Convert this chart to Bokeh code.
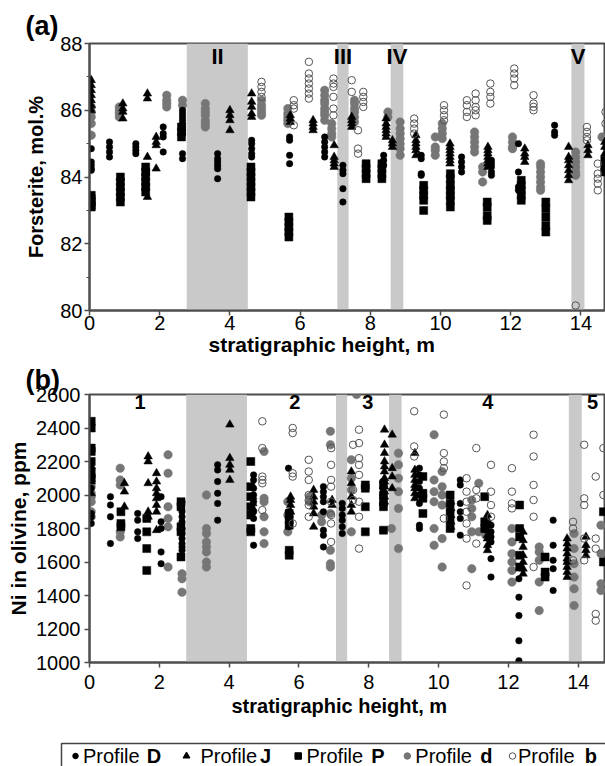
from bokeh.plotting import figure
from bokeh.layouts import column
from bokeh.models import Range1d, FixedTicker, BoxAnnotation, Title
from bokeh.core.properties import value
from bokeh.embed import file_html
from bokeh.resources import INLINE

FONT = "Liberation Sans"

# ---------------- DATA ----------------
# Panel (a): forsterite, mol.%  -- cluster positions (m) and values
FO_D_POS = [0.05, 0.57, 1.32, 1.62, 2.1, 2.65, 3.65, 4.62, 5.7, 6.7, 7.22, 8.38, 9.45, 10.6, 11.45, 12.22, 13.25]
FO_D_VAL = [[84.85, 84.45, 84.35, 84.25, 84.2], [85.05, 84.9, 84.75, 84.6], [85.0, 84.9, 84.8, 84.7],
            [84.15, 83.75], [85.5, 85.3, 85.2, 84.75],
            [86.0, 85.9, 85.8, 85.7, 85.6, 85.5, 85.4, 85.3, 84.7, 84.55],
            [84.7, 84.55, 84.45, 84.35, 84.25, 83.95], [85.1, 85.0, 84.85, 84.7, 84.6],
            [85.2, 85.1, 84.65, 84.4], [85.2, 85.05, 84.9, 84.75, 84.6], [84.35, 84.2, 84.1, 83.65, 83.25],
            [84.65, 84.5, 84.35], [84.65, 84.55, 84.1, 84.05], [84.6, 84.45, 84.3, 84.15],
            [84.5, 84.4, 84.3, 84.15, 84.05], [85.0, 84.15, 83.7, 83.6], [85.55, 85.35, 85.25]]

FO_J_POS = [0.05, 0.95, 1.65, 1.9, 4.0, 4.62, 5.72, 6.37, 6.97, 7.47, 8.45, 8.63, 9.3, 10.27, 11.35, 12.4, 13.65, 14.2, 14.68]
FO_J_VAL = [[86.9, 86.75, 86.6, 86.45, 86.3, 86.15, 86.0], [86.2, 86.05, 85.95, 85.75], [86.5, 86.35, 84.6, 83.4],
            [85.2, 85.05, 84.95, 84.25], [86.0, 85.85, 85.7, 85.4], [86.5, 86.25, 86.1, 85.9, 85.8],
            [85.85, 85.75, 85.65], [85.7, 85.6, 85.5, 85.4], [84.95, 84.6, 84.5, 84.4, 84.3],
            [85.8, 85.7, 85.6, 85.5], [85.75, 85.6, 85.5, 85.4, 85.3, 85.2], [85.1, 85.0, 84.9],
            [85.25, 85.1, 85.0, 84.9, 84.8, 84.65], [85.0, 84.9, 84.8, 84.7, 84.6, 84.5, 84.4],
            [84.9, 84.8, 84.7, 84.6, 84.5, 84.4, 84.3], [84.85, 84.7, 84.6, 84.45],
            [84.9, 84.6, 84.5, 84.35, 84.2, 84.05, 83.9], [84.95, 84.8, 84.65], [85.05, 84.9, 84.7]]

FO_P_POS = [0.05, 0.88, 1.6, 2.62, 4.6, 5.68, 7.88, 8.33, 9.52, 10.28, 11.33, 12.3, 13.0, 14.68]
FO_P_VAL = [[83.45, 83.35, 83.25, 83.15, 83.1], [84.0, 83.85, 83.7, 83.55, 83.4, 83.25],
            [84.3, 84.15, 84.0, 83.85, 83.7, 83.55], [85.5, 85.35, 85.2],
            [84.3, 84.15, 84.0, 83.85, 83.7, 83.55, 83.4], [82.8, 82.65, 82.5, 82.35, 82.2],
            [84.4, 84.25, 84.1, 83.95], [84.4, 84.25, 84.1, 83.95], [83.75, 83.6, 83.45, 83.3, 83.0],
            [84.1, 83.95, 83.75, 83.6, 83.45, 83.3, 83.1], [83.25, 83.1, 82.85, 82.7],
            [83.9, 83.75, 83.6, 83.45, 83.3], [83.25, 83.05, 82.8, 82.55, 82.35], [84.5, 84.3, 84.15]]

FO_d_POS = [0.05, 0.85, 2.2, 2.65, 3.3, 4.9, 5.65, 6.7, 6.9, 7.55, 8.5, 8.85, 9.85, 10.05, 10.97, 11.2, 12.05, 12.85, 13.85, 14.6]
FO_d_VAL = [[86.1, 85.95, 85.8, 85.6, 85.25], [86.1, 86.0, 85.9, 85.8], [86.45, 86.3, 86.2, 86.1], [86.3, 86.15],
            [86.2, 86.05, 85.95, 85.85, 85.7, 85.6, 85.5], [86.3, 86.15, 86.05, 85.95, 85.85],
            [86.05, 85.9, 85.8, 85.7, 85.6], [86.6, 86.45, 86.3, 86.2, 86.05, 85.95, 85.85, 85.7],
            [85.6, 85.45, 85.3, 85.2], [86.3, 86.2, 86.05, 85.95, 85.8, 85.65], [85.95, 85.8],
            [85.65, 85.45, 85.3, 85.15, 85.0, 84.85, 84.65], [85.2, 84.9, 84.8, 84.65],
            [85.6, 85.45, 85.3, 85.15], [85.35, 85.2, 85.05, 84.9, 84.75], [84.3, 84.15, 83.85],
            [85.2, 85.05, 84.9, 84.85], [84.4, 84.3, 84.15, 84.0, 83.85, 83.7, 83.6],
            [84.75, 84.6, 84.45, 84.3, 84.15, 84.05], [85.2]]

FO_b_POS = [4.9, 5.82, 6.25, 6.95, 7.47, 7.65, 7.8, 9.25, 10.1, 10.75, 11.0, 11.42, 12.1, 12.65, 13.85, 14.17, 14.48, 14.7]
FO_b_VAL = [[86.85, 86.7, 86.55, 86.4], [86.3, 86.15, 86.05, 85.55], [87.45, 87.1, 86.95, 86.8, 86.65, 86.5, 86.35],
            [86.95, 86.8, 86.7, 86.4, 86.05, 85.85], [86.9, 86.55], [85.4, 84.85, 84.7], [86.55, 86.4, 86.25, 86.1],
            [85.75, 85.6, 85.45, 85.3], [86.15, 86.0, 85.85, 85.7], [86.3, 86.15, 85.95, 85.8],
            [86.5, 86.3, 86.1, 86.0, 85.85], [86.8, 86.55, 86.4, 86.2], [87.25, 87.1, 86.95, 86.75],
            [86.45, 86.2, 86.1, 86.0], [80.15], [85.5, 85.35, 85.2, 85.1], [84.4, 84.1, 83.95, 83.8, 83.6],
            [85.95, 85.6]]

# Panel (b): Ni in olivine, ppm
NI_D_POS = [0.05, 0.6, 1.38, 2.05, 2.65, 3.67, 4.7, 5.7, 6.7, 7.24, 8.4, 9.45, 10.62, 11.5, 12.3, 13.28]
NI_D_VAL = [[2190, 2160, 2040, 1890, 1870, 1830], [1990, 1940, 1870, 1710], [1890, 1850, 1780, 1740],
            [1990, 1840, 1800, 1660, 1590], [1960, 1900, 1870, 1840, 1800, 1770, 1740, 1710, 1690, 1670],
            [2180, 2150, 2080, 2010, 1950, 1850], [2120, 2090, 2040, 2000, 1960, 1900, 1860, 1700],
            [2160, 1900, 1860, 1810], [2050, 2020, 1990, 1960, 1900, 1790, 1760, 1690],
            [1950, 1920, 1880, 1850, 1810, 1770], [2080, 2040, 2000, 1950, 1790],
            [2160, 2120, 2080, 2040, 2000, 1950, 1820, 1800], [2090, 2060, 1950, 1900, 1860, 1760],
            [1820, 1780, 1750, 1720, 1620, 1510], [1500, 1390, 1280, 1130, 1010], [1850, 1700, 1610, 1560, 1430]]

NI_J_POS = [0.05, 1.0, 1.68, 1.92, 4.02, 4.68, 5.76, 6.42, 6.95, 7.5, 8.45, 8.67, 9.32, 10.35, 11.4, 12.42, 13.68, 14.22]
NI_J_VAL = [[2170, 2120, 2080, 2010], [2070, 2020, 1930], [2230, 2200, 2070, 1900, 1870],
            [2130, 2080, 2040, 2010, 1980, 1940, 1900, 1790], [2420, 2220, 2180, 2150, 2090], [1990, 1950, 1920],
            [1990, 1970, 1940, 1900], [2030, 1990, 1960, 1930, 1890, 1810], [1970, 1940],
            [2140, 2070, 1990, 1940, 1900],
            [2390, 2300, 2250, 2200, 2170, 2140, 2100, 2080, 2050, 2020, 1990, 1960], [2360, 2160, 2110, 2040],
            [2250, 2150, 2120, 2090, 2060, 2040, 2010, 1980], [1960, 1920, 1880, 1840, 1810],
            [1880, 1850, 1820, 1790, 1760, 1740, 1700, 1670], [1780, 1730, 1690, 1640, 1600, 1560, 1530],
            [1740, 1710, 1680, 1650, 1620, 1600, 1570, 1540, 1510], [1750, 1700, 1670, 1640]]

NI_P_POS = [0.05, 0.9, 1.64, 2.62, 4.62, 5.72, 7.9, 8.42, 9.55, 10.33, 11.32, 12.32, 13.05, 14.72]
NI_P_VAL = [[2440, 2400, 2280, 2260, 2200, 2140, 2100], [1900, 1830, 1810], [1860, 1780, 1680, 1550],
            [1960, 1930, 1810, 1780, 1630], [2200, 2050, 1990, 1930, 1880, 1800, 1780],
            [1890, 1850, 1820, 1670, 1640], [2060, 2040, 1930, 1780], [2060, 2000, 1960, 1930, 1790],
            [2110, 2010, 1980, 1890], [2000, 1950, 1900, 1850, 1800], [1990, 1840, 1800],
            [1940, 1800, 1750, 1640, 1570], [1630, 1540, 1510], [1900, 1600]]

NI_d_POS = [0.05, 0.88, 2.25, 2.65, 3.35, 5.0, 5.68, 6.3, 6.65, 6.9, 7.5, 7.65, 8.65, 8.85, 9.87, 10.1,
            10.95, 11.15, 11.35, 12.1, 12.88, 13.88, 14.65]
NI_d_VAL = [[2110, 2080, 2050, 2010, 1990, 1960, 1900, 1870], [2160, 2090, 2060, 1780, 1750],
            [2240, 2130, 1930, 1860, 1810, 1570], [1530, 1500, 1420],
            [2000, 1800, 1770, 1720, 1690, 1660, 1600, 1570], [2260, 1980, 1960, 1870, 1780, 1710],
            [1960, 1880, 1780], [1990, 1960], [1880, 1840], [2380, 2300, 1890, 1670, 1590, 1570],
            [2210, 2100, 2030, 1780], [2600], [1800], [2250, 2180, 2100, 2020, 1920, 1680],
            [2360, 2090, 2020, 1960, 1800, 1700], [2140, 2050, 2000, 1940, 1740, 1570],
            [1970, 1920, 1870, 1780, 1560], [2070, 1780], [1820, 1760], [1800, 1720, 1650, 1600, 1550, 1480],
            [1690, 1660, 1610, 1480, 1310], [1770, 1680, 1590, 1510, 1440, 1340], [1820, 1650, 1470, 1430]]

NI_b_POS = [4.95, 5.82, 6.28, 6.92, 7.55, 7.72, 9.3, 10.15, 10.8, 11.08, 11.5, 12.1, 12.72, 13.85, 14.17, 14.5, 14.72]
NI_b_VAL = [[2440, 2280, 2110, 2090, 2070, 1910], [2400, 2370, 2130, 2110, 1830],
            [2210, 2140, 2090, 2000, 1970, 1940, 1870], [2280, 2180, 2090, 2050, 1960, 1880, 1830, 1720],
            [2300, 2030, 1970], [2390, 2310, 2220, 2180, 2120, 1960, 1870, 1680], [2500, 2290, 2230],
            [2480, 2250, 2200, 2160, 1860], [2100, 2020, 1960, 1900, 1830, 1740, 1460],
            [2280, 2030, 1980, 1710], [2180, 2020, 1940, 1870], [2160, 2020, 1950, 1920],
            [2360, 2230, 2060, 1970, 1870, 1570], [1840, 1800, 1610], [2300, 1980, 1940, 1740, 1610],
            [2110, 1740, 1680, 1290, 1250], [2280, 2000]]

# Shaded intervals (m) and their labels
BANDS = [(2.77, 4.51), (7.06, 7.38), (8.58, 8.94), (13.73, 14.10)]
BAND_LABELS_A = ["II", "III", "IV", "V"]
BAND_LABEL_X_A = [3.65, 7.22, 8.76, 13.92]
UNIT_LABELS_B = ["1", "2", "3", "4", "5"]
UNIT_LABEL_X_B = [1.45, 5.88, 7.97, 11.41, 14.41]

FO_TICKS = [80, 82, 84, 86, 88]
FO_MINOR = [81, 83, 85, 87]
NI_TICKS = [1000, 1200, 1400, 1600, 1800, 2000, 2200, 2400, 2600]
X_TICKS = [0, 2, 4, 6, 8, 10, 12, 14]

PROFILES = ["D", "J", "P", "d", "b"]
X_LABEL = "stratigraphic height, m"
Y_LABEL_A = "Forsterite, mol.%"
Y_LABEL_B = "Ni in olivine, ppm"


def expand(pos, vals):
    xs, ys = [], []
    for x, vs in zip(pos, vals):
        for v in vs:
            xs.append(x)
            ys.append(v)
    return xs, ys


STYLE = {
    "D": dict(marker="circle", size=6.5, fill_color="black", line_color="black", line_width=0.5),
    "J": dict(marker="triangle", size=8.5, fill_color="black", line_color="black", line_width=0.5),
    "P": dict(marker="square", size=8, fill_color="black", line_color="black", line_width=0.5),
    "d": dict(marker="circle", size=8.5, fill_color="#767676", line_color="#767676", line_width=0.5),
    "b": dict(marker="circle", size=7.5, fill_alpha=0, line_color="#555555", line_width=1),
}
AX = "#4d4d4d"
W = 605
LEFT = 89


def make_panel(height, bt, bb, xend, yr, yticks, yminor, tick_standoff_x, tick_standoff_y,
               ylabel, ylabel_size, ylabel_standoff, xlabel_size, xlabel_left, xlabel_standoff,
               tag, tag_size, tag_standoff):
    p = figure(width=W, height=height, x_range=Range1d(0, xend), y_range=Range1d(*yr),
               output_backend="svg", toolbar_location=None, title=None,
               min_border_left=LEFT, min_border_right=0, min_border_top=bt, min_border_bottom=bb)
    p.grid.visible = False
    p.outline_line_color = AX
    p.outline_line_width = 2
    p.background_fill_color = "white"
    p.border_fill_color = "white"
    p.xaxis.ticker = FixedTicker(ticks=X_TICKS, minor_ticks=[])
    p.yaxis.ticker = FixedTicker(ticks=yticks, minor_ticks=yminor)
    for ax in (p.xaxis[0], p.yaxis[0]):
        ax.axis_line_color = AX
        ax.axis_line_width = 2
        ax.major_tick_line_color = AX
        ax.major_tick_line_width = 1.5
        ax.minor_tick_line_color = AX
        ax.major_tick_out = 5
        ax.major_tick_in = 0
        ax.minor_tick_out = 3
        ax.minor_tick_in = 0
        ax.major_label_text_font = FONT
        ax.major_label_text_font_size = "20px"
        ax.major_label_text_color = "black"
        ax.axis_label_text_font = FONT
        ax.axis_label_text_font_style = "bold"
        ax.axis_label_text_color = "black"
    p.xaxis.major_label_standoff = tick_standoff_x
    p.yaxis.major_label_standoff = tick_standoff_y
    p.yaxis.axis_label = ylabel
    p.yaxis.axis_label_text_font_size = ylabel_size
    p.yaxis.axis_label_standoff = ylabel_standoff
    # x-axis caption placed below the axis, positioned like in the original figure
    p.add_layout(Title(text=X_LABEL, align="left", offset=xlabel_left - LEFT, standoff=xlabel_standoff,
                       vertical_align="top", text_font=FONT, text_font_size=xlabel_size,
                       text_font_style="bold", text_color="black"), "below")
    # panel tag "(a)" / "(b)"
    p.add_layout(Title(text=tag, align="left", offset=25 - LEFT, standoff=tag_standoff,
                       text_font=FONT, text_font_size=tag_size, text_font_style="bold",
                       text_color="black"), "above")
    for l, r in BANDS:
        p.add_layout(BoxAnnotation(left=l, right=r, fill_color="#c9c9c9", fill_alpha=1.0,
                                   line_alpha=0, level="underlay"))
    return p


def draw_series(p, data):
    for key in ["d", "P", "J", "D", "b"]:
        xs, ys = expand(*data[key])
        p.scatter(xs, ys, **STYLE[key])


# ---------------- PANEL (a) ----------------
HA = 362
pa = make_panel(HA, 43, 52, 14.70, (80, 88), FO_TICKS, FO_MINOR, 0, 2,
                Y_LABEL_A, "20px", 10, "21px", 208, 0, "(a)", "27px", 6)
draw_series(pa, {"D": (FO_D_POS, FO_D_VAL), "J": (FO_J_POS, FO_J_VAL), "P": (FO_P_POS, FO_P_VAL),
                 "d": (FO_d_POS, FO_d_VAL), "b": (FO_b_POS, FO_b_VAL)})
pa.text(x=BAND_LABEL_X_A, y=[88] * len(BAND_LABEL_X_A), text=BAND_LABELS_A,
        text_font=value(FONT), text_font_style="bold", text_font_size="22px",
        text_align="center", text_baseline="top", text_color="black")

# ---------------- PANEL (b) ----------------
HB = 363
pb = make_panel(HB, 31, 63, 14.78, (1000, 2600), NI_TICKS, [], 7, 4,
                Y_LABEL_B, "21px", 3, "20px", 231, 6, "(b)", "27px", 0)
draw_series(pb, {"D": (NI_D_POS, NI_D_VAL), "J": (NI_J_POS, NI_J_VAL), "P": (NI_P_POS, NI_P_VAL),
                 "d": (NI_d_POS, NI_d_VAL), "b": (NI_b_POS, NI_b_VAL)})
pb.text(x=UNIT_LABEL_X_B, y=[2600] * len(UNIT_LABEL_X_B), text=UNIT_LABELS_B,
        text_font=value(FONT), text_font_style="bold", text_font_size="20px",
        text_align="center", text_baseline="top", text_color="black")

# ---------------- LEGEND (separate root so its frame spans the whole canvas) ----------------
HL = 766 - HA - HB
pl = figure(width=W, height=HL, x_range=Range1d(0, W), y_range=Range1d(0, HL),
            output_backend="svg", toolbar_location=None,
            min_border_left=0, min_border_right=0, min_border_top=0, min_border_bottom=0)
pl.axis.visible = False
pl.grid.visible = False
pl.outline_line_alpha = 0
pl.background_fill_color = "white"
pl.border_fill_color = "white"
pl.quad(left=[61], right=[W + 10], bottom=[-5], top=[HL - 18], fill_alpha=0,
        line_color="#444444", line_width=1.5)

LEG_MARK_X = [75, 186, 297.7, 406.8, 512]
LEG_TEXT_X = [82.5, 200, 306, 414.8, 517.5]
LEG_END_X = [160.7, 270.6, 384, 492, 596.5]
LEG_STYLE = {
    "D": dict(marker="circle", size=5.5, fill_color="black", line_color="black"),
    "J": dict(marker="triangle", size=7, fill_color="black", line_color="black"),
    "P": dict(marker="square", size=6.5, fill_color="black", line_color="black"),
    "d": dict(marker="circle", size=6.5, fill_color="#767676", line_color="#767676"),
    "b": dict(marker="circle", size=6.5, fill_alpha=0, line_color="#555555", line_width=1),
}
mid_y = 10.5
for i, key in enumerate(PROFILES):
    pl.scatter([LEG_MARK_X[i]], [mid_y], **LEG_STYLE[key])
pl.text(x=LEG_TEXT_X, y=[mid_y] * 5, text=["Profile"] * 5, text_font=value(FONT),
        text_font_size="20px", text_baseline="middle", text_align="left", text_color="black")
pl.text(x=LEG_END_X, y=[mid_y] * 5, text=PROFILES, text_font=value(FONT), text_font_style="bold",
        text_font_size="20px", text_baseline="middle", text_align="right", text_color="black")

panels = column(pa, pb, spacing=0)
open("out.html", "w").write(file_html([panels, pl], INLINE))
